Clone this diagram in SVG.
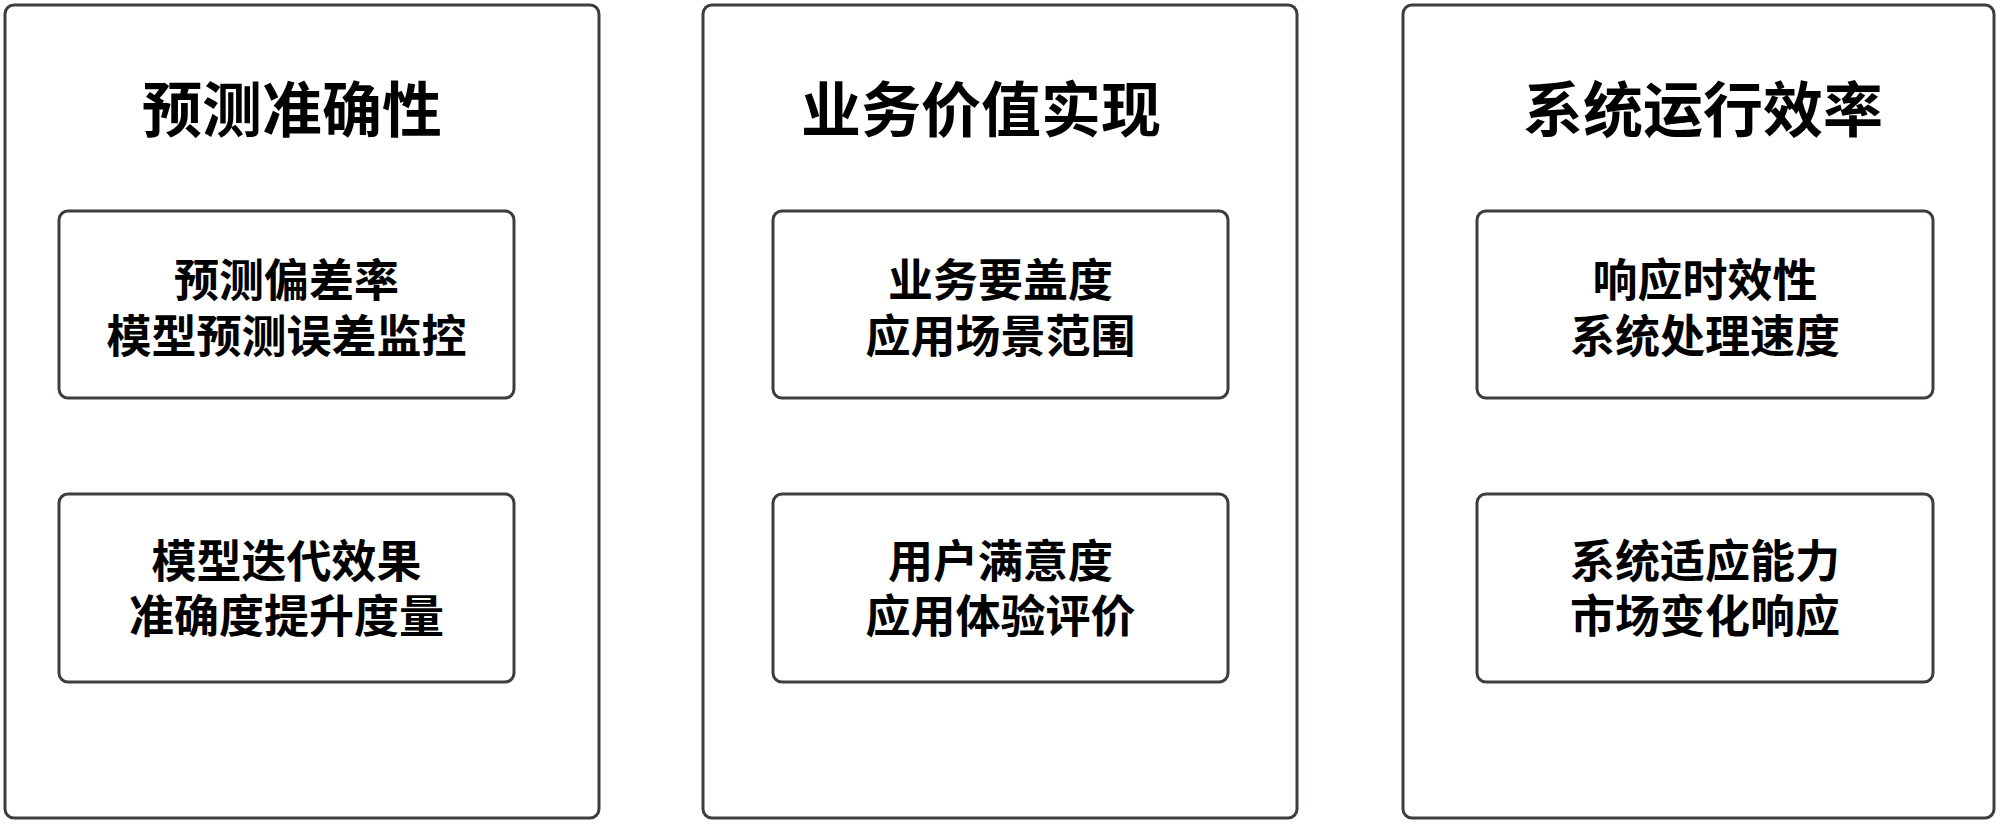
<svg xmlns="http://www.w3.org/2000/svg" width="2000" height="825" viewBox="0 0 2000 825">
<style>
.panel{fill:#ffffff;stroke:#3a3e42;stroke-width:3}
.box{fill:#ffffff;stroke:#3a3e42;stroke-width:3}
.title{font-family:"Noto Sans CJK SC","Noto Sans",sans-serif;font-size:60px;font-weight:bold;fill:#000;text-anchor:middle}
.txt{font-family:"Noto Sans CJK SC","Noto Sans",sans-serif;font-size:45px;font-weight:bold;fill:#000;text-anchor:middle}
</style>
<rect width="2000" height="825" fill="#ffffff"/>
<g id="panel-accuracy">
<rect class="panel" x="5" y="5" width="594" height="813" rx="9"/>
<text class="title" x="292" y="132">预测准确性</text>
</g>
<g id="panel-business">
<rect class="panel" x="703" y="5" width="594" height="813" rx="9"/>
<text class="title" x="981" y="132">业务价值实现</text>
</g>
<g id="panel-efficiency">
<rect class="panel" x="1403" y="5" width="591" height="813" rx="9"/>
<text class="title" x="1703" y="132">系统运行效率</text>
</g>
<g id="node-bias">
<rect class="box" x="59" y="211" width="455" height="187" rx="9"/>
<text class="txt" x="286.5" y="297">预测偏差率</text>
<text class="txt" x="286.5" y="353">模型预测误差监控</text>
</g>
<g id="node-iteration">
<rect class="box" x="59" y="494" width="455" height="188" rx="9"/>
<text class="txt" x="286.5" y="578">模型迭代效果</text>
<text class="txt" x="286.5" y="633">准确度提升度量</text>
</g>
<g id="node-coverage">
<rect class="box" x="773" y="211" width="455" height="187" rx="9"/>
<text class="txt" x="1000.5" y="297">业务要盖度</text>
<text class="txt" x="1000.5" y="353">应用场景范围</text>
</g>
<g id="node-satisfaction">
<rect class="box" x="773" y="494" width="455" height="188" rx="9"/>
<text class="txt" x="1000.5" y="578">用户满意度</text>
<text class="txt" x="1000.5" y="633">应用体验评价</text>
</g>
<g id="node-response">
<rect class="box" x="1477" y="211" width="456" height="187" rx="9"/>
<text class="txt" x="1705" y="297">响应时效性</text>
<text class="txt" x="1705" y="353">系统处理速度</text>
</g>
<g id="node-adapt">
<rect class="box" x="1477" y="494" width="456" height="188" rx="9"/>
<text class="txt" x="1705" y="578">系统适应能力</text>
<text class="txt" x="1705" y="633">市场变化响应</text>
</g>
<g id="connectors"></g>
</svg>
